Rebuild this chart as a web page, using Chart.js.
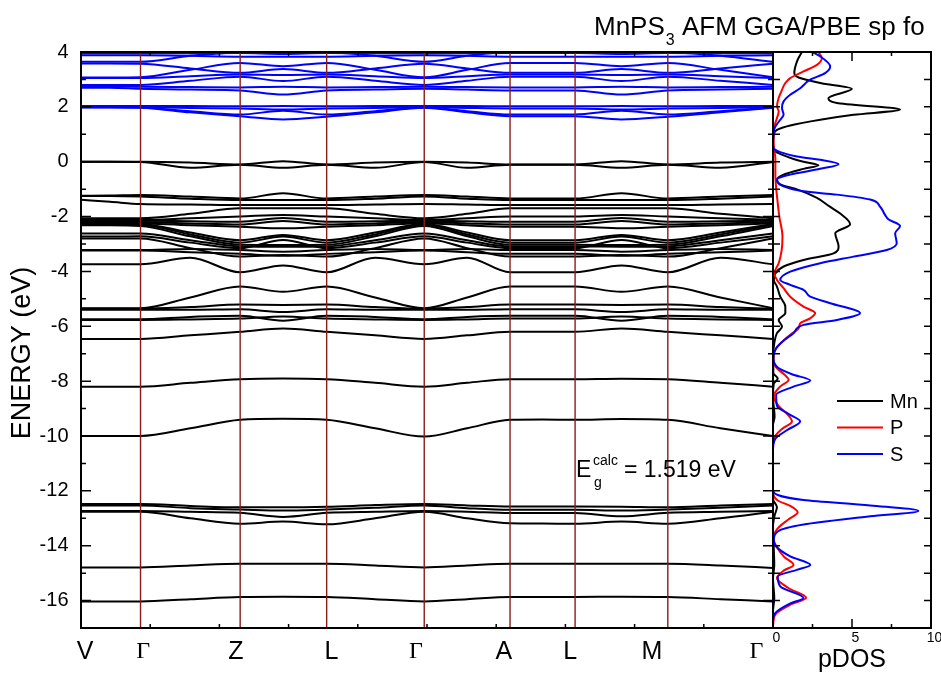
<!DOCTYPE html>
<html><head><meta charset="utf-8">
<script src="https://cdn.jsdelivr.net/npm/chart.js@4.4.1/dist/chart.umd.min.js"></script>
<style>
html,body{margin:0;padding:0;background:#fff;}
#wrap{position:relative;width:941px;height:675px;overflow:hidden;}
canvas{position:absolute;left:0;top:0;}
</style></head><body>
<div id="wrap"><canvas id="bands" width="941" height="675"></canvas><canvas id="dos" width="941" height="675"></canvas></div>
<script>
// ---- k-path ----
const kPts = [0, 0.042, 0.086, 0.158, 0.230, 0.292, 0.355, 0.425, 0.496, 0.558, 0.620, 0.667, 0.714, 0.781, 0.848, 0.924, 1.0];
const kSym = [0.086, 0.230, 0.355, 0.496, 0.620, 0.714, 0.848];
const kLabels = ['V', 'Γ', 'Z', 'L', 'Γ', 'A', 'L', 'M', 'Γ'];
const kLabelPos = [0.006, 0.090, 0.224, 0.362, 0.484, 0.611, 0.707, 0.825, 0.976];

// ---- conduction bands (eV) ----
const cb1 = [3.95,3.95,3.95,3.95,3.96,3.93,3.96,3.95,3.95, 3.95,3.96,3.96,3.96,3.93,3.96,3.95,3.95];
const cb2 = [3.88,3.88,3.88,3.86,3.83,3.83,3.83,3.86,3.88, 3.86,3.83,3.83,3.83,3.83,3.83,3.86,3.88];
const cb3 = [3.64,3.64,3.64,3.86,4.00,4.05,4.00,3.86,3.64, 3.86,4.00,4.00,4.00,4.05,4.00,3.86,3.64];
const cb4 = [3.58,3.58,3.57,3.40,3.24,3.38,3.24,3.40,3.57, 3.40,3.24,3.24,3.24,3.38,3.24,3.40,3.57];
const cb5 = [3.07,3.07,3.08,3.35,3.60,3.48,3.60,3.35,3.08, 3.35,3.60,3.60,3.60,3.48,3.60,3.35,3.08];
const cb6 = [3.05,3.05,3.05,3.12,3.18,3.16,3.18,3.12,3.05, 3.12,3.18,3.18,3.18,3.16,3.18,3.12,3.05];
const cb7 = [2.80,2.80,2.80,2.95,3.10,2.94,3.10,2.95,2.80, 2.95,3.10,3.10,3.10,2.94,3.10,2.95,2.80];
const cb8 = [2.75,2.75,2.73,2.72,2.71,2.73,2.71,2.72,2.73, 2.72,2.71,2.71,2.71,2.73,2.71,2.72,2.73];
const cb9 = [2.70,2.70,2.66,2.63,2.60,2.45,2.60,2.63,2.66, 2.63,2.60,2.60,2.60,2.45,2.60,2.63,2.66];
const cb10 = [2.03,2.03,2.03,2.03,2.02,2.03,2.02,2.03,2.03, 2.03,2.02,2.02,2.02,2.03,2.02,2.03,2.03];
const cb11 = [2.00,2.00,1.99,1.96,1.94,1.90,1.94,1.96,1.99, 1.96,1.94,1.94,1.94,1.90,1.94,1.96,1.99];
const cb12 = [1.99,1.99,1.98,1.84,1.72,1.86,1.72,1.84,1.98, 1.84,1.72,1.72,1.72,1.86,1.72,1.84,1.98];
const cb13 = [1.98,1.98,1.97,1.80,1.66,1.54,1.64,1.80,1.97, 1.80,1.66,1.66,1.66,1.54,1.64,1.80,1.97];

// ---- valence bands (eV) ----
const vb1 = [0.00,0.00,0.00,-0.03,-0.10,0.02,-0.10,-0.03,0.00, -0.03,-0.10,-0.10,-0.10,0.02,-0.10,-0.03,0.00];
const vb2 = [0.00,0.00,-0.01,-0.22,-0.11,-0.22,-0.11,-0.22,-0.01, -0.22,-0.11,-0.11,-0.11,-0.22,-0.11,-0.22,-0.01];
const vb3 = [-1.24,-1.23,-1.21,-1.27,-1.34,-1.15,-1.34,-1.27,-1.21, -1.27,-1.34,-1.34,-1.34,-1.15,-1.34,-1.27,-1.21];
const vb4 = [-1.25,-1.25,-1.27,-1.35,-1.40,-1.40,-1.40,-1.35,-1.27, -1.35,-1.40,-1.40,-1.40,-1.40,-1.40,-1.35,-1.27];
const vb5 = [-1.39,-1.46,-1.54,-1.56,-1.58,-1.58,-1.58,-1.56,-1.54, -1.56,-1.58,-1.58,-1.58,-1.58,-1.58,-1.56,-1.54];
const vb6 = [-2.06,-2.06,-2.06,-1.90,-1.70,-1.70,-1.70,-1.90,-2.06, -1.90,-1.70,-1.70,-1.70,-1.70,-1.70,-1.90,-2.06];
const vb7 = [-2.10,-2.10,-2.12,-2.06,-2.00,-1.94,-2.00,-2.06,-2.12, -2.06,-2.00,-2.00,-2.00,-1.94,-2.00,-2.06,-2.12];
const vb8 = [-2.13,-2.13,-2.15,-2.17,-2.19,-2.05,-2.19,-2.17,-2.15, -2.17,-2.19,-2.19,-2.19,-2.05,-2.19,-2.17,-2.15];
const vb9 = [-2.18,-2.18,-2.20,-2.25,-2.29,-2.16,-2.29,-2.25,-2.20, -2.25,-2.29,-2.29,-2.29,-2.16,-2.29,-2.25,-2.20];
const vb10 = [-2.22,-2.22,-2.24,-2.32,-2.37,-2.43,-2.37,-2.32,-2.24, -2.32,-2.37,-2.37,-2.37,-2.43,-2.37,-2.32,-2.24];
const vb11 = [-2.26,-2.26,-2.27,-2.58,-2.86,-2.67,-2.86,-2.58,-2.27, -2.58,-2.86,-2.86,-2.86,-2.67,-2.86,-2.58,-2.27];
const vb12 = [-2.29,-2.29,-2.30,-2.65,-2.95,-2.73,-2.95,-2.65,-2.30, -2.65,-2.95,-2.95,-2.95,-2.73,-2.95,-2.65,-2.30];
const vb13 = [-2.32,-2.32,-2.34,-2.72,-3.03,-3.04,-3.03,-2.72,-2.34, -2.72,-3.03,-3.03,-3.03,-3.04,-3.03,-2.72,-2.34];
const vb14 = [-2.62,-2.62,-2.62,-2.86,-3.09,-3.10,-3.09,-2.86,-2.62, -2.86,-3.09,-3.09,-3.09,-3.10,-3.09,-2.86,-2.62];
const vb15 = [-2.73,-2.73,-2.72,-2.95,-3.15,-2.85,-3.15,-2.95,-2.72, -2.95,-3.15,-3.15,-3.15,-2.85,-3.15,-2.95,-2.72];
const vb16 = [-2.80,-2.80,-2.80,-3.15,-3.46,-3.40,-3.46,-3.15,-2.80, -3.15,-3.46,-3.46,-3.46,-3.40,-3.46,-3.15,-2.80];
const vb17 = [-3.22,-3.22,-3.22,-3.18,-3.22,-3.28,-3.22,-3.18,-3.22, -3.18,-3.22,-3.22,-3.22,-3.28,-3.22,-3.18,-3.22];
const vb18 = [-3.24,-3.24,-3.24,-3.30,-3.36,-3.43,-3.36,-3.30,-3.24, -3.30,-3.36,-3.36,-3.36,-3.43,-3.36,-3.30,-3.24];
const vb19 = [-3.74,-3.74,-3.74,-3.50,-4.03,-3.78,-4.03,-3.50,-3.74, -3.50,-4.03,-4.03,-4.03,-3.78,-4.03,-3.50,-3.74];
const vb20 = [-5.34,-5.34,-5.34,-4.95,-4.55,-4.74,-4.55,-4.95,-5.34, -4.95,-4.55,-4.55,-4.55,-4.74,-4.55,-4.95,-5.34];
const vb21 = [-5.36,-5.36,-5.36,-5.30,-5.21,-5.22,-5.21,-5.30,-5.36, -5.30,-5.21,-5.21,-5.21,-5.22,-5.21,-5.30,-5.36];
const vb22 = [-5.40,-5.40,-5.40,-5.40,-5.38,-5.48,-5.38,-5.40,-5.40, -5.40,-5.38,-5.38,-5.38,-5.48,-5.38,-5.40,-5.40];
const vb23 = [-5.74,-5.74,-5.74,-5.66,-5.62,-5.80,-5.62,-5.66,-5.74, -5.66,-5.62,-5.62,-5.62,-5.80,-5.62,-5.66,-5.74];
const vb24 = [-5.77,-5.77,-5.77,-5.75,-5.72,-5.64,-5.72,-5.75,-5.77, -5.75,-5.72,-5.72,-5.72,-5.64,-5.72,-5.75,-5.77];
const vb25 = [-6.46,-6.46,-6.46,-6.33,-6.20,-6.08,-6.20,-6.33,-6.46, -6.33,-6.20,-6.20,-6.20,-6.08,-6.20,-6.33,-6.46];
const vb26 = [-8.20,-8.20,-8.20,-8.06,-7.93,-7.90,-7.93,-8.06,-8.20, -8.06,-7.93,-7.93,-7.93,-7.91,-7.93,-8.06,-8.20];
const vb27 = [-10.00,-10.00,-10.00,-9.72,-9.41,-9.37,-9.41,-9.72,-10.02, -9.72,-9.41,-9.40,-9.41,-9.38,-9.41,-9.72,-10.00];
const vb28 = [-12.48,-12.48,-12.48,-12.55,-12.60,-12.60,-12.58,-12.52,-12.48, -12.53,-12.57,-12.57,-12.57,-12.58,-12.60,-12.53,-12.48];
const vb29 = [-12.53,-12.53,-12.53,-12.63,-12.68,-12.72,-12.68,-12.62,-12.53, -12.63,-12.69,-12.69,-12.69,-12.72,-12.68,-12.62,-12.53];
const vb30 = [-12.73,-12.73,-12.73,-12.76,-12.80,-12.95,-12.80,-12.76,-12.73, -12.76,-12.81,-12.81,-12.81,-12.93,-12.80,-12.76,-12.73];
const vb31 = [-12.76,-12.76,-12.76,-13.00,-13.20,-13.12,-13.22,-13.00,-12.76, -13.00,-13.18,-13.19,-13.20,-13.12,-13.20,-13.00,-12.76];
const vb32 = [-14.79,-14.79,-14.79,-14.72,-14.66,-14.66,-14.66,-14.72,-14.79, -14.72,-14.66,-14.66,-14.66,-14.66,-14.66,-14.72,-14.81];
const vb33 = [-16.03,-16.03,-16.03,-15.95,-15.87,-15.86,-15.87,-15.95,-16.03, -15.95,-15.87,-15.87,-15.87,-15.86,-15.87,-15.95,-16.03];

const conductionBands = [cb1,cb2,cb3,cb4,cb5,cb6,cb7,cb8,cb9,cb10,cb11,cb12,cb13];
const valenceBands = [vb1,vb2,vb3,vb4,vb5,vb6,vb7,vb8,vb9,vb10,vb11,vb12,vb13,vb14,vb15,vb16,vb17,vb18,vb19,
  vb20,vb21,vb22,vb23,vb24,vb25,vb26,vb27,vb28,vb29,vb30,vb31,vb32,vb33];

// ---- pDOS: [energy (eV), states] ----
const dosMn = [[4.0,1.83],[3.66,1.52],[3.23,1.35],[3.07,1.62],[2.87,2.99],[2.66,4.99],[2.32,3.51],[2.14,4.04],[1.90,8.04],
  [1.71,5.1],[1.53,2.99],[1.32,1.09],[1.16,0.25],[0.98,0.05],[0.5,0.0],[0.38,0.1],[0.25,0.6],[0.1,1.3],[0.0,1.93],
  [-0.13,2.88],[-0.26,1.93],[-0.47,0.67],[-0.65,0.25],[-0.83,0.46],[-1.01,1.52],[-1.32,2.78],[-1.64,3.6],[-1.89,4.25],
  [-2.28,4.88],[-2.61,3.94],[-3.09,4.15],[-3.34,3.83],[-3.58,1.93],[-3.82,0.67],[-4.07,0.15],[-4.31,0.05],[-4.55,0.25],
  [-4.92,0.46],[-5.28,0.78],[-5.52,0.78],[-5.77,0.36],[-6.01,0.57],[-6.25,0.25],[-6.62,0.08],[-7.0,0.02],[-7.7,0.02],
  [-7.9,0.3],[-8.1,0.05],[-8.6,0.0],[-9.3,0.1],[-9.6,0.0],[-12.3,0.0],[-12.6,0.25],[-12.9,0.1],[-13.3,0.0],[-14.7,0.08],
  [-15.2,0.0],[-15.9,0.08],[-16.4,0.0],[-17.0,0.0]];
const dosP = [[4.0,2.88],[3.78,3.09],[3.53,2.78],[3.29,1.93],[3.05,1.09],[2.87,0.78],[2.62,0.57],[2.32,0.36],[2.02,0.25],
  [1.83,0.36],[1.59,0.25],[1.28,0.08],[0.98,0.03],[0.49,0.06],[0.12,0.15],[-0.47,0.15],[-0.96,0.2],[-1.40,0.28],
  [-2.0,0.4],[-2.73,0.6],[-3.22,0.55],[-3.70,0.36],[-4.07,0.08],[-4.31,0.25],[-4.61,0.67],[-4.92,1.09],[-5.28,1.93],
  [-5.52,2.67],[-5.71,2.35],[-5.89,1.72],[-6.07,1.62],[-6.31,1.09],[-6.55,0.6],[-6.85,0.15],[-7.2,0.03],[-7.5,0.2],
  [-7.75,0.7],[-7.95,0.99],[-8.2,0.45],[-8.55,0.05],[-8.9,0.35],[-9.2,0.9],[-9.47,1.2],[-9.75,0.55],[-10.1,0.05],
  [-10.5,0.0],[-12.05,0.0],[-12.35,0.3],[-12.55,1.09],[-12.78,1.56],[-13.05,0.95],[-13.4,0.25],[-13.75,0.03],
  [-14.1,0.3],[-14.4,0.7],[-14.7,1.3],[-14.9,0.7],[-15.18,0.25],[-15.55,1.0],[-15.9,2.1],[-16.15,1.1],[-16.5,0.15],
  [-16.8,0.02],[-17.0,0.0]];
const dosS = [[4.0,2.46],[3.84,2.99],[3.47,3.62],[3.23,3.30],[2.99,2.35],[2.68,1.72],[2.44,1.09],[2.20,0.67],[1.96,0.57],
  [1.71,0.67],[1.53,0.46],[1.28,0.15],[1.10,0.05],[0.6,0.0],[0.45,0.1],[0.35,0.46],[0.19,1.52],[0.07,2.99],[-0.09,4.15],
  [-0.26,2.99],[-0.47,1.09],[-0.65,0.25],[-0.90,0.67],[-1.08,1.93],[-1.20,4.04],[-1.38,6.15],[-1.64,6.78],[-1.94,7.09],
  [-2.10,7.3],[-2.34,8.04],[-2.61,7.73],[-2.97,7.83],[-3.22,7.2],[-3.46,5.09],[-3.70,2.99],[-4.01,1.09],[-4.31,0.46],
  [-4.49,1.09],[-4.67,1.93],[-4.92,2.36],[-5.16,3.62],[-5.52,5.51],[-5.77,4.04],[-5.95,1.93],[-6.25,1.3],[-6.49,0.75],
  [-6.8,0.2],[-7.15,0.02],[-7.5,0.3],[-7.75,1.2],[-7.98,2.36],[-8.2,1.3],[-8.5,0.2],[-8.9,0.25],[-9.2,1.0],[-9.47,1.72],
  [-9.78,0.9],[-10.1,0.15],[-10.5,0.0],[-11.95,0.0],[-12.15,0.3],[-12.33,1.93],[-12.53,6.15],[-12.73,9.2],[-12.93,6.15],
  [-13.23,1.93],[-13.48,0.3],[-13.78,0.05],[-14.03,0.2],[-14.39,1.09],[-14.70,2.36],[-14.88,1.5],[-15.12,0.3],
  [-15.48,0.46],[-15.91,1.93],[-16.1,1.1],[-16.45,0.15],[-16.75,0.0],[-17.0,0.0]];

const energyMin = -17, energyMax = 4;
const bandGapText = '= 1.519 eV';
const titleMain = 'MnPS', titleSub = '3', titleRest = 'AFM GGA/PBE sp fo';
const legendNames = ['Mn', 'P', 'S'];

// ---- styling ----
const SANS = "'Liberation Sans', Arial, Helvetica, sans-serif";
const SERIF = "'Liberation Serif', 'Times New Roman', serif";
Chart.defaults.font.family = SANS;
Chart.defaults.color = '#000';
const BLACK = '#000000', BLUE = '#0000ff', RED = '#ff0000', SYMLINE = '#8b1a1a';

const bandDatasets = [];
kSym.forEach(k => bandDatasets.push({
  data: [{x: k, y: energyMin}, {x: k, y: energyMax}],
  borderColor: SYMLINE, borderWidth: 1.4, pointRadius: 0, tension: 0, order: 0
}));
conductionBands.forEach(b => bandDatasets.push({
  data: b.map((e, i) => ({x: kPts[i], y: e})),
  borderColor: BLUE, borderWidth: 2, pointRadius: 0, cubicInterpolationMode: 'monotone', order: 1
}));
valenceBands.forEach(b => bandDatasets.push({
  data: b.map((e, i) => ({x: kPts[i], y: e})),
  borderColor: BLACK, borderWidth: 2, pointRadius: 0, cubicInterpolationMode: 'monotone', order: 1
}));

const bandDecor = {
  id: 'bandDecor',
  afterDraw(chart) {
    const {ctx, chartArea: a, scales: {x, y}} = chart;
    ctx.save();
    ctx.strokeStyle = '#000';
    ctx.lineWidth = 1.5;
    ctx.beginPath();
    y.ticks.forEach(t => {
      if (t.value <= y.min || t.value >= y.max) return;
      const py = y.getPixelForValue(t.value);
      const len = (t.value % 2 === 0) ? 10 : 5;
      ctx.moveTo(a.left, py); ctx.lineTo(a.left + len, py);
      ctx.moveTo(a.right, py); ctx.lineTo(a.right - len, py);
    });
    for (let i = 1; i < 10; i++) {
      const px = x.getPixelForValue(i / 10);
      ctx.moveTo(px, a.bottom); ctx.lineTo(px, a.bottom - 4);
      ctx.moveTo(px, a.top); ctx.lineTo(px, a.top + 4);
    }
    ctx.stroke();
    ctx.lineWidth = 2;
    ctx.strokeRect(a.left, a.top, a.right - a.left, a.bottom - a.top);
    ctx.fillStyle = '#000';
    ctx.textBaseline = 'alphabetic';
    ctx.textAlign = 'left';
    // title
    ctx.font = '26px ' + SANS;
    let tx = 594;
    ctx.fillText(titleMain, tx, 35);
    tx += ctx.measureText(titleMain).width;
    ctx.font = '16px ' + SANS;
    ctx.fillText(titleSub, tx + 1, 45);
    tx += ctx.measureText(titleSub).width + 1;
    ctx.font = '26px ' + SANS;
    tx += ctx.measureText(' ').width;
    ctx.fillText(titleRest, tx, 35);
    // band gap label
    ctx.font = '23px ' + SANS;
    ctx.fillText('E', 576, 477);
    ctx.font = '14px ' + SANS;
    ctx.fillText('calc', 593, 465);
    ctx.fillText('g', 594, 487);
    ctx.font = '23px ' + SANS;
    ctx.fillText(bandGapText, 624, 477);
    // y axis title
    ctx.translate(22, 353);
    ctx.rotate(-Math.PI / 2);
    ctx.textAlign = 'center';
    ctx.textBaseline = 'middle';
    ctx.font = '27px ' + SANS;
    ctx.fillText('ENERGY (eV)', 0, 1);
    ctx.restore();
  }
};

new Chart(document.getElementById('bands'), {
  type: 'line',
  data: {datasets: bandDatasets},
  options: {
    responsive: false, animation: false, devicePixelRatio: 1, events: [],
    layout: {padding: {left: 0, right: 168, top: 52, bottom: 0}},
    plugins: {legend: {display: false}, tooltip: {enabled: false}},
    scales: {
      x: {
        type: 'linear', min: 0, max: 1,
        grid: {display: false, drawTicks: false}, border: {display: false},
        afterBuildTicks: s => { s.ticks = kLabelPos.map(v => ({value: v})); },
        afterFit: s => { s.height = 47; },
        ticks: {
          autoSkip: false, maxRotation: 0, minRotation: 0, padding: 9, color: '#000',
          callback: (v, i) => kLabels[i],
          font: c => (kLabels[c.index] === 'Γ') ? {family: SERIF, size: 24} : {family: SANS, size: 25}
        }
      },
      y: {
        type: 'linear', min: energyMin, max: energyMax,
        grid: {display: false, drawTicks: false}, border: {display: false},
        afterFit: s => { s.width = 81; },
        ticks: {
          stepSize: 1, autoSkip: false, padding: 12.5, color: '#000', font: {size: 20},
          callback: v => (v % 2 === 0) ? String(v) : ''
        }
      }
    }
  },
  plugins: [bandDecor]
});

// ---- pDOS chart ----
const toPts = arr => arr.map(([e, d]) => ({x: d, y: e}));
const dosDatasets = [
  {label: 'Mn', data: toPts(dosMn), borderColor: BLACK, order: 3},
  {label: 'P', data: toPts(dosP), borderColor: RED, order: 2},
  {label: 'S', data: toPts(dosS), borderColor: BLUE, order: 1}
].map(d => Object.assign(d, {borderWidth: 2, pointRadius: 0, cubicInterpolationMode: 'monotone'}));
const legendColors = [BLACK, RED, BLUE];

const dosDecor = {
  id: 'dosDecor',
  afterDraw(chart) {
    const {ctx, chartArea: a, scales: {x, y}} = chart;
    ctx.save();
    ctx.strokeStyle = '#000';
    ctx.lineWidth = 1.5;
    ctx.beginPath();
    y.ticks.forEach(t => {
      if (t.value <= y.min || t.value >= y.max) return;
      const py = y.getPixelForValue(t.value);
      ctx.moveTo(a.left, py); ctx.lineTo(a.left + 7, py);
      ctx.moveTo(a.right, py); ctx.lineTo(a.right - 7, py);
    });
    x.ticks.forEach(t => {
      if (t.value <= x.min || t.value >= x.max) return;
      const px = x.getPixelForValue(t.value);
      const len = (t.value % 5 === 0) ? 9 : 4;
      ctx.moveTo(px, a.bottom); ctx.lineTo(px, a.bottom - len);
      ctx.moveTo(px, a.top); ctx.lineTo(px, a.top + len);
    });
    ctx.stroke();
    ctx.lineWidth = 2;
    ctx.strokeRect(a.left, a.top, a.right - a.left, a.bottom - a.top);
    // legend
    const ly = [401, 427.5, 454];
    ctx.font = '20px ' + SANS;
    ctx.textAlign = 'left';
    ctx.textBaseline = 'middle';
    legendNames.forEach((n, i) => {
      ctx.strokeStyle = legendColors[i];
      ctx.lineWidth = 2;
      ctx.beginPath();
      ctx.moveTo(837, ly[i]); ctx.lineTo(883, ly[i]);
      ctx.stroke();
      ctx.fillStyle = '#000';
      ctx.fillText(n, 890, ly[i] + 1);
    });
    ctx.restore();
  }
};

new Chart(document.getElementById('dos'), {
  type: 'line',
  data: {datasets: dosDatasets},
  options: {
    responsive: false, animation: false, devicePixelRatio: 1, events: [],
    indexAxis: 'y',
    layout: {padding: {left: 773, right: 10, top: 52, bottom: 0}},
    plugins: {legend: {display: false}, tooltip: {enabled: false}},
    scales: {
      x: {
        type: 'linear', min: 0, max: 10,
        grid: {display: false, drawTicks: false}, border: {display: false},
        afterFit: s => { s.height = 47; },
        title: {display: true, text: 'pDOS', font: {size: 25}, padding: {top: 0, bottom: 0}, color: '#000'},
        ticks: {
          stepSize: 2.5, autoSkip: false, maxRotation: 0, padding: 2, labelOffset: 3.5, color: '#000',
          font: {size: 14}, callback: v => (v % 5 === 0) ? String(v) : ''
        }
      },
      y: {
        type: 'linear', min: energyMin, max: energyMax,
        grid: {display: false, drawTicks: false}, border: {display: false},
        afterFit: s => { s.width = 0; },
        ticks: {stepSize: 1, display: false}
      }
    }
  },
  plugins: [dosDecor]
});
</script>
</body></html>
